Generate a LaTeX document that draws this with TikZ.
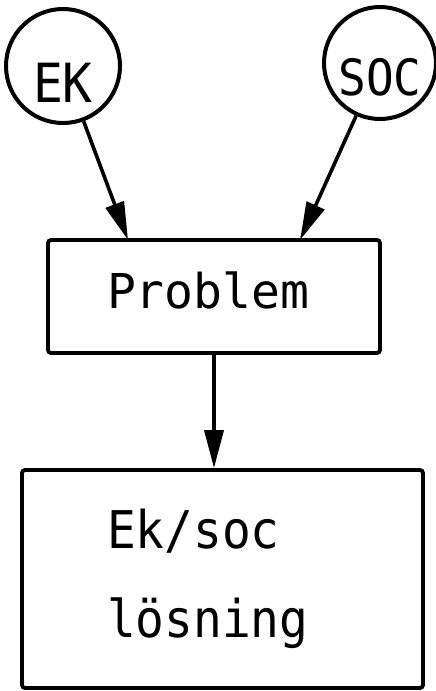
\documentclass[tikz,border=0pt]{standalone}
\usepackage{fontspec}
\usetikzlibrary{arrows.meta}
\newfontfamily\twA{DejaVu Sans Mono}
\newfontfamily\twB[FakeStretch=0.92]{DejaVu Sans Mono}
\begin{document}
\begin{tikzpicture}[x=1pt,y=-1pt,
  circ/.style={draw, circle, line width=4pt, inner sep=0pt},
  boxed/.style={draw, rectangle, line width=3.8pt, rounded corners=3pt, align=left},
  conn/.style={line width=3.6pt, -{Triangle[length=38pt,width=19pt]}}]
\useasboundingbox (0,0) rectangle (436,691);
\node[circ, minimum size=114pt, text height=72pt, text depth=0pt, font={\twB\fontsize{54}{60}\selectfont}] (ek) at (63,66) {EK};
\node[circ, minimum size=112pt, text height=64pt, text depth=0pt, font={\twB\fontsize{50}{56}\selectfont}] (soc) at (380,63) {SOC};
\node[boxed, minimum width=332pt, minimum height=113pt, inner xsep=59pt, text width=214pt, text depth=13pt, font={\twA\fontsize{48}{56}\selectfont}] (prob) at (214,296.5) {Problem};
\node[boxed, minimum width=401pt, minimum height=218pt, inner xsep=85pt, text width=231pt, font={\twB\fontsize{52}{89}\selectfont}] (sol) at (222.5,579) {Ek/soc\\lösning};
\coordinate (pin1) at (128,240);
\coordinate (pin2) at (300,240);
\draw[conn] (ek) -- (pin1);
\draw[conn] (soc) -- (pin2);
\draw[conn] (prob.south) -- (prob.south |- sol.north);
\end{tikzpicture}
\end{document}
